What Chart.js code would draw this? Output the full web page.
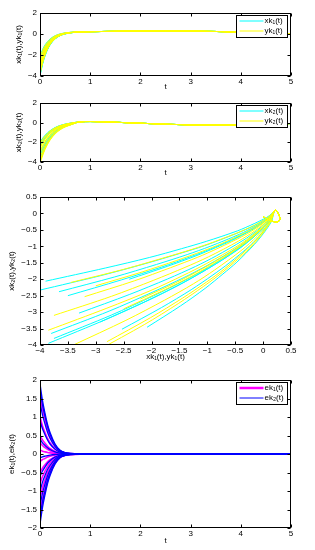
<!DOCTYPE html>
<html>
<head>
<meta charset="utf-8">
<script src="https://cdn.jsdelivr.net/npm/chart.js@4.4.1/dist/chart.umd.min.js"></script>
<style>
  html, body { margin: 0; padding: 0; background: #fff; }
  body { width: 315px; height: 550px; position: relative; overflow: hidden; }
  canvas { position: absolute; left: 0; }
</style>
</head>
<body>
<canvas id="c1" width="315" height="95" style="top:0px"></canvas>
<canvas id="c2" width="315" height="90" style="top:95px"></canvas>
<canvas id="c3" width="315" height="180" style="top:185px"></canvas>
<canvas id="c4" width="315" height="185" style="top:365px"></canvas>
<script>
// time grid: the fast part of every run, then the common tail
const headT = [0, 0.05, 0.1, 0.15, 0.2, 0.3, 0.4, 0.5, 0.6];
const tailT = [0.8, 1, 1.5, 2, 2.5, 3, 3.5, 4, 4.5, 5];
const tail1 = [0.2, 0.22, 0.26, 0.29, 0.3, 0.28, 0.24, 0.17, 0.09, 0.0];
const tail2 = [0.07, 0.1, 0.03, -0.07, -0.17, -0.24, -0.26, -0.24, -0.18, -0.1];

// cyan runs: xk1(t) and xk2(t)
const xk1 = [
  [-3.9, -2.83, -2.04, -1.46, -1.02, -0.46, -0.16, 0.01, 0.11],
  [-4.0, -2.91, -2.1, -1.5, -1.05, -0.48, -0.16, 0.01, 0.11],
  [-3.66, -2.66, -1.91, -1.36, -0.95, -0.42, -0.13, 0.03, 0.12],
  [-3.5, -2.54, -1.82, -1.29, -0.9, -0.39, -0.12, 0.03, 0.12],
  [-3.8, -2.76, -1.99, -1.42, -0.99, -0.44, -0.15, 0.02, 0.11],
  [-3.75, -2.72, -1.96, -1.4, -0.98, -0.44, -0.14, 0.02, 0.11],
  [-2.08, -1.48, -1.04, -0.72, -0.47, -0.16, 0.01, 0.11, 0.16],
  [-2.53, -1.82, -1.29, -0.9, -0.61, -0.23, -0.03, 0.08, 0.15],
  [-2.92, -2.11, -1.5, -1.06, -0.73, -0.3, -0.07, 0.06, 0.14],
  [-3.3, -2.39, -1.71, -1.21, -0.84, -0.36, -0.1, 0.04, 0.13],
  [-3.85, -2.8, -2.01, -1.44, -1.01, -0.45, -0.15, 0.02, 0.11],
  [-2.4, -1.72, -1.22, -0.85, -0.57, -0.21, -0.02, 0.09, 0.15]
];
const xk2 = [
  [-2.06, -1.66, -1.34, -1.07, -0.85, -0.53, -0.31, -0.17, -0.07],
  [-2.33, -1.89, -1.52, -1.22, -0.98, -0.61, -0.37, -0.2, -0.09],
  [-2.38, -1.93, -1.55, -1.25, -1.0, -0.63, -0.38, -0.21, -0.1],
  [-2.5, -2.02, -1.63, -1.31, -1.05, -0.66, -0.4, -0.23, -0.11],
  [-3.65, -2.97, -2.4, -1.95, -1.57, -1.01, -0.63, -0.38, -0.21],
  [-3.8, -3.09, -2.5, -2.03, -1.64, -1.05, -0.66, -0.4, -0.23],
  [-3.46, -2.81, -2.28, -1.84, -1.48, -0.95, -0.6, -0.36, -0.2],
  [-3.52, -2.86, -2.32, -1.87, -1.51, -0.97, -0.61, -0.36, -0.2],
  [-3.3, -2.68, -2.17, -1.75, -1.41, -0.9, -0.57, -0.34, -0.19],
  [-3.03, -2.46, -1.99, -1.61, -1.29, -0.82, -0.51, -0.3, -0.16],
  [-3.95, -3.21, -2.6, -2.11, -1.7, -1.1, -0.69, -0.42, -0.24],
  [-2.0, -1.61, -1.3, -1.04, -0.83, -0.51, -0.3, -0.16, -0.06]
];

// yellow runs: yk1(t) and yk2(t)
const yk1 = [
  [-3.85, -2.8, -2.01, -1.44, -1.01, -0.45, -0.15, 0.02, 0.11],
  [-3.75, -2.72, -1.96, -1.4, -0.98, -0.44, -0.14, 0.02, 0.11],
  [-3.2, -2.31, -1.66, -1.17, -0.81, -0.34, -0.09, 0.05, 0.13],
  [-3.45, -2.5, -1.8, -1.27, -0.89, -0.39, -0.11, 0.04, 0.12],
  [-3.4, -2.46, -1.77, -1.25, -0.87, -0.38, -0.11, 0.04, 0.12],
  [-2.95, -2.13, -1.52, -1.07, -0.73, -0.3, -0.07, 0.06, 0.13],
  [-2.8, -2.02, -1.44, -1.01, -0.69, -0.28, -0.06, 0.07, 0.14],
  [-2.5, -1.8, -1.27, -0.89, -0.6, -0.23, -0.03, 0.08, 0.15],
  [-2.2, -1.57, -1.11, -0.77, -0.51, -0.18, 0.0, 0.1, 0.16],
  [-3.0, -2.17, -1.55, -1.09, -0.75, -0.31, -0.07, 0.06, 0.13]
];
const yk2 = [
  [-3.55, -2.88, -2.34, -1.89, -1.52, -0.98, -0.61, -0.37, -0.2],
  [-3.1, -2.52, -2.03, -1.64, -1.32, -0.84, -0.52, -0.31, -0.16],
  [-2.53, -2.05, -1.65, -1.33, -1.06, -0.67, -0.41, -0.23, -0.11],
  [-2.1, -1.7, -1.36, -1.09, -0.87, -0.54, -0.32, -0.17, -0.07],
  [-4.0, -3.25, -2.64, -2.14, -1.72, -1.11, -0.7, -0.43, -0.25],
  [-4.15, -3.38, -2.74, -2.22, -1.79, -1.16, -0.74, -0.45, -0.26],
  [-3.9, -3.17, -2.57, -2.08, -1.68, -1.08, -0.68, -0.41, -0.24],
  [-2.9, -2.35, -1.9, -1.53, -1.23, -0.78, -0.48, -0.28, -0.15],
  [-2.6, -2.11, -1.7, -1.37, -1.1, -0.69, -0.42, -0.24, -0.12],
  [-2.2, -1.78, -1.43, -1.15, -0.92, -0.57, -0.34, -0.19, -0.08]
];

// synchronisation errors
const errT = [0, 0.05, 0.1, 0.15, 0.2, 0.3, 0.4, 0.5, 0.6, 0.8, 5];
const ek1 = [
  [1.6, 1.22, 0.93, 0.67, 0.49, 0.23, 0.085, 0.034, 0.013, 0.003, 0],
  [1, 0.76, 0.58, 0.42, 0.305, 0.142, 0.053, 0.021, 0.008, 0.002, 0],
  [0.5, 0.38, 0.29, 0.21, 0.15, 0.071, 0.027, 0.011, 0.004, 0.001, 0],
  [0.3, 0.23, 0.17, 0.13, 0.09, 0.043, 0.016, 0.006, 0.002, 0.001, 0],
  [0.1, 0.076, 0.058, 0.042, 0.03, 0.014, 0.005, 0.002, 0.001, 0, 0],
  [-0.2, -0.15, -0.12, -0.084, -0.061, -0.028, -0.011, -0.004, -0.002, 0, 0],
  [-0.5, -0.38, -0.29, -0.21, -0.15, -0.071, -0.027, -0.011, -0.004, -0.001, 0],
  [-0.8, -0.61, -0.46, -0.34, -0.24, -0.11, -0.042, -0.017, -0.006, -0.002, 0],
  [-1.2, -0.91, -0.7, -0.5, -0.37, -0.17, -0.064, -0.025, -0.01, -0.002, 0],
  [-1.6, -1.22, -0.93, -0.67, -0.49, -0.23, -0.085, -0.034, -0.013, -0.003, 0],
  [-1.75, -1.33, -1.02, -0.74, -0.53, -0.25, -0.093, -0.037, -0.014, -0.004, 0]
];
const ek2 = [
  [1.9, 1.44, 1.1, 0.8, 0.58, 0.27, 0.1, 0.04, 0.015, 0.004, 0],
  [1.75, 1.33, 1.02, 0.74, 0.53, 0.25, 0.093, 0.037, 0.014, 0.004, 0],
  [1.4, 1.06, 0.81, 0.59, 0.43, 0.2, 0.074, 0.029, 0.011, 0.003, 0],
  [0.9, 0.68, 0.52, 0.38, 0.27, 0.13, 0.048, 0.019, 0.007, 0.002, 0],
  [0.4, 0.3, 0.23, 0.17, 0.12, 0.057, 0.021, 0.008, 0.003, 0.001, 0],
  [-0.1, -0.076, -0.058, -0.042, -0.03, -0.014, -0.005, -0.002, -0.001, 0, 0],
  [-0.6, -0.46, -0.35, -0.25, -0.18, -0.085, -0.032, -0.013, -0.005, -0.001, 0],
  [-1, -0.76, -0.58, -0.42, -0.305, -0.142, -0.053, -0.021, -0.008, -0.002, 0],
  [-1.4, -1.06, -0.81, -0.59, -0.43, -0.2, -0.074, -0.029, -0.011, -0.003, 0],
  [-1.7, -1.29, -0.99, -0.71, -0.52, -0.24, -0.09, -0.036, -0.014, -0.003, 0],
  [-1.9, -1.44, -1.1, -0.8, -0.58, -0.27, -0.1, -0.04, -0.015, -0.004, 0]
];

// tick labels
const tTicks = [0, 1, 2, 3, 4, 5];
const stateTicks = [-4, -2, 0, 2];
const phaseTicks = [-4, -3.5, -3, -2.5, -2, -1.5, -1, -0.5, 0, 0.5];
const errTicks = [-2, -1.5, -1, -0.5, 0, 0.5, 1, 1.5, 2];

const CYAN = '#00ffff', YELLOW = '#ffff00', MAGENTA = '#ff00ff', BLUE = '#0000ff';
const FONT = { family: "'Liberation Sans', Arial, 'DejaVu Sans', sans-serif", size: 8 };
const times = headT.concat(tailT);

const minus = v => String(v).replace('-', '\u2212');

// matlab-ish frame: full box, inward ticks, legend inside top right
const frame = {
  id: 'frame',
  afterDraw(chart, args, opts) {
    const { ctx, chartArea: a, scales: { x, y } } = chart;
    const L = Math.round(a.left) + 0.5, R = Math.round(a.right) - 0.5;
    const T = Math.round(a.top) + 0.5, B = Math.round(a.bottom) - 0.5;
    ctx.save();
    ctx.strokeStyle = '#000';
    ctx.lineWidth = 1;
    ctx.beginPath();
    x.ticks.forEach(t => {
      const px = Math.round(x.getPixelForValue(t.value)) + 0.5;
      ctx.moveTo(px, B); ctx.lineTo(px, B - 3);
      ctx.moveTo(px, T); ctx.lineTo(px, T + 3);
    });
    y.ticks.forEach(t => {
      const py = Math.round(y.getPixelForValue(t.value)) + 0.5;
      ctx.moveTo(L, py); ctx.lineTo(L + 3, py);
      ctx.moveTo(R, py); ctx.lineTo(R - 3, py);
    });
    ctx.stroke();
    ctx.strokeRect(L, T, R - L, B - T);

    if (opts.items) {
      const w = 51, h = 22;
      const bx = Math.round(a.right) - 4 - w + 0.5, by = Math.round(a.top) + 2.5;
      ctx.fillStyle = '#fff';
      ctx.fillRect(bx, by, w, h);
      ctx.strokeStyle = '#000';
      ctx.lineWidth = 1;
      ctx.strokeRect(bx, by, w, h);
      ctx.font = "8px 'Liberation Sans', Arial, 'DejaVu Sans', sans-serif";
      ctx.textBaseline = 'middle';
      opts.items.forEach((it, i) => {
        const ry = by + 5.5 + i * 10;
        ctx.strokeStyle = it.color;
        ctx.lineWidth = it.width;
        ctx.beginPath();
        ctx.moveTo(bx + 3, ry); ctx.lineTo(bx + 27, ry);
        ctx.stroke();
        ctx.fillStyle = '#000';
        ctx.fillText(it.label, bx + 28, ry);
      });
    }
    ctx.restore();
  }
};

function axis(range, ticks, title, titlePad, fit) {
  return {
    type: 'linear', min: range[0], max: range[1],
    afterBuildTicks: s => { s.ticks = ticks.map(v => ({ value: v })); },
    afterFit: fit,
    grid: { display: false, drawTicks: false },
    border: { display: false },
    ticks: { font: FONT, color: '#000', padding: 2, maxRotation: 0, autoSkip: false, callback: minus },
    title: { display: true, text: title, font: FONT, color: '#000', padding: titlePad }
  };
}

function line(points, color, width, order) {
  return {
    data: points, borderColor: color, borderWidth: width, order: order,
    pointRadius: 0, fill: false, cubicInterpolationMode: 'monotone'
  };
}

function makeChart(id, datasets, cfg) {
  const xs = axis(cfg.xRange, cfg.xTicks, cfg.xTitle, { top: 0, bottom: cfg.xTitlePad }, s => { s.height = cfg.xHeight; });
  xs.ticks.padding = 1;
  const ys = axis(cfg.yRange, cfg.yTicks, cfg.yTitle, { top: cfg.yTitlePad, bottom: 0 }, s => { s.width = 40; });
  ys.ticks.padding = 3;
  return new Chart(document.getElementById(id), {
    type: 'line',
    data: { datasets: datasets },
    options: {
      responsive: false, animation: false, devicePixelRatio: 1,
      layout: { padding: { top: cfg.padTop, right: 24, bottom: 0, left: 0 } },
      scales: { x: xs, y: ys },
      plugins: { legend: { display: false }, tooltip: { enabled: false }, frame: { items: cfg.legend } }
    },
    plugins: [frame]
  });
}

const vsTime = (head, tail) => head.concat(tail).map((v, i) => ({ x: times[i], y: v }));
const phase = (a, b) => a.concat(tail1).map((v, i) => ({ x: v, y: b.concat(tail2)[i] }));

// panel 1
makeChart('c1',
  xk1.map(r => line(vsTime(r, tail1), CYAN, 1, 1))
    .concat(yk1.map(r => line(vsTime(r, tail1), YELLOW, 1, 0))),
  { xRange: [0, 5], xTicks: tTicks, xTitle: 't', xTitlePad: 3, xHeight: 19,
    yRange: [-4, 2], yTicks: stateTicks, yTitle: 'xk\u2081(t),yk\u2081(t)', yTitlePad: 14, padTop: 13,
    legend: [{ label: 'xk\u2081(t)', color: CYAN, width: 1 }, { label: 'yk\u2081(t)', color: YELLOW, width: 1 }] });

// panel 2
makeChart('c2',
  xk2.map(r => line(vsTime(r, tail2), CYAN, 1, 1))
    .concat(yk2.map(r => line(vsTime(r, tail2), YELLOW, 1, 0))),
  { xRange: [0, 5], xTicks: tTicks, xTitle: 't', xTitlePad: 7, xHeight: 23,
    yRange: [-4, 2], yTicks: stateTicks, yTitle: 'xk\u2082(t),yk\u2082(t)', yTitlePad: 14, padTop: 5,
    legend: [{ label: 'xk\u2082(t)', color: CYAN, width: 1 }, { label: 'yk\u2082(t)', color: YELLOW, width: 1 }] });

// panel 3: phase portrait
const phaseSets = [];
xk1.forEach((r, i) => {
  phaseSets.push(Object.assign(line(phase(r, xk2[i]), CYAN, 1, 1), { cubicInterpolationMode: 'default', tension: 0.3 }));
});
yk1.forEach((r, i) => {
  phaseSets.push(Object.assign(line(phase(r, yk2[i]), YELLOW, 1, 0), { cubicInterpolationMode: 'default', tension: 0.3 }));
});
makeChart('c3', phaseSets,
  { xRange: [-4, 0.5], xTicks: phaseTicks, xTitle: 'xk\u2081(t),yk\u2081(t)', xTitlePad: 3.5, xHeight: 20,
    yRange: [-4, 0.5], yTicks: phaseTicks, yTitle: 'xk\u2082(t),yk\u2082(t)', yTitlePad: 7, padTop: 12,
    legend: null });

// panel 4: errors, blue drawn over magenta
const errSets = [];
ek1.forEach((r, i) => {
  errSets.push(line(r.map((v, j) => ({ x: errT[j], y: v })), MAGENTA, 1.6, 1));
  errSets.push(line(ek2[i].map((v, j) => ({ x: errT[j], y: v })), BLUE, 1.3, 0));
});
makeChart('c4', errSets,
  { xRange: [0, 5], xTicks: tTicks, xTitle: 't', xTitlePad: 4.5, xHeight: 22,
    yRange: [-2, 2], yTicks: errTicks, yTitle: 'ek\u2081(t),ek\u2082(t)', yTitlePad: 7, padTop: 15,
    legend: [{ label: 'ek\u2081(t)', color: MAGENTA, width: 2.5 }, { label: 'ek\u2082(t)', color: BLUE, width: 1 }] });
</script>
</body>
</html>
